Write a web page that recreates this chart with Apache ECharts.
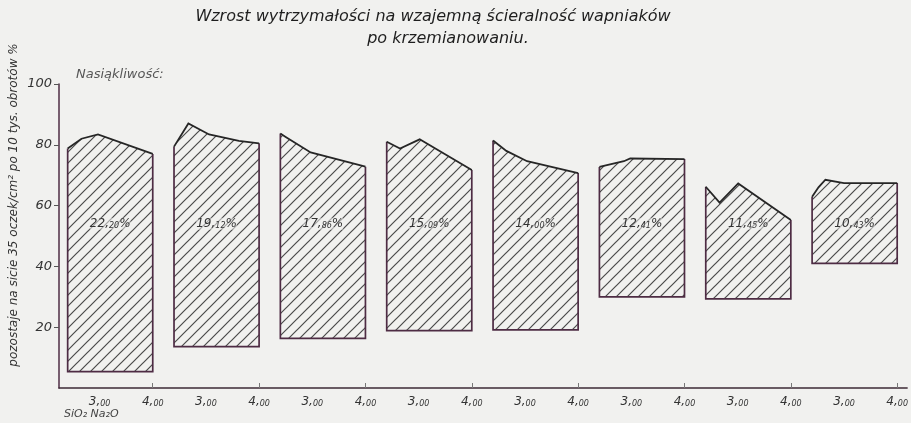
<!DOCTYPE html>
<html>
<head>
<meta charset="utf-8">
<title>Wzrost wytrzymałości na wzajemną ścieralność wapniaków</title>
<script src="https://cdn.jsdelivr.net/npm/echarts@6/dist/echarts.min.js"></script>
<style>
    html, body { margin: 0; padding: 0; background: #f1f1ef; }
    #chart { width: 911px; height: 423px; }
</style>
</head>
<body>
<div id="chart"></div>
<script>
// nasiąkliwość (etykieta w środku każdego pola)
const absorption = ['22,20', '19,12', '17,86', '15,09', '14,00', '12,41', '11,45', '10,43'];
// dolna granica pola, %
const bottoms = [5.4, 13.6, 16.3, 18.9, 19.1, 30.0, 29.3, 41.0];
// górny profil pola: [SiO2/Na2O, %]
const tops = [
    [[2.40, 78.8], [2.66, 82.0], [2.97, 83.4], [4.00, 77.0]],
    [[2.40, 79.4], [2.67, 87.0], [3.06, 83.4], [3.62, 81.3], [4.00, 80.5]],
    [[2.40, 83.7], [2.50, 82.6], [2.97, 77.5], [4.00, 72.8]],
    [[2.40, 81.0], [2.65, 78.8], [3.02, 81.8], [4.00, 71.7]],
    [[2.40, 81.4], [2.65, 78.0], [3.04, 74.6], [4.00, 70.7]],
    [[2.40, 72.7], [2.86, 74.6], [2.98, 75.5], [4.00, 75.3]],
    [[2.40, 66.2], [2.66, 61.0], [3.01, 67.3], [4.00, 55.3]],
    [[2.40, 62.9], [2.52, 66.0], [2.65, 68.5], [3.00, 67.4], [4.00, 67.4]]
];
// podziałka osi x w każdej grupie
const xTickRatios = [3, 4];
const xTickLabels = ['3,00', '4,00'];
const yTicks = [20, 40, 60, 80, 100];

const RATIO_MIN = 2.4;
const RATIO_MAX = 4.0;
const GROUP_STEP = 2;
const X_SHIFT = 2.237;
const LABEL_Y = 54;
const EDGE = '#4e2c44';
const INK = '#262626';

const gx = (i, r) => i * GROUP_STEP + r - X_SHIFT;

// wartości i etykiety osi x
const xLabelValues = [];
const xLabelMap = {};
const xTickValues = [];
absorption.forEach((_, i) => {
    xTickRatios.forEach((r, k) => {
        const v = +gx(i, r).toFixed(3);
        xLabelValues.push(v);
        xLabelMap[v.toFixed(3)] = xTickLabels[k];
        if (r === 4) xTickValues.push(v);
    });
});

/**
 * kreskowanie ukośne
 */
function makeHatch() {
    const s = 11;
    const c = document.createElement('canvas');
    c.width = s; c.height = s;
    const ctx = c.getContext('2d');
    ctx.strokeStyle = '#4a4a4a';
    ctx.lineWidth = 1.2;
    ctx.beginPath();
    ctx.moveTo(0, s); ctx.lineTo(s, 0);
    ctx.moveTo(-2, 2); ctx.lineTo(2, -2);
    ctx.moveTo(s - 2, s + 2); ctx.lineTo(s + 2, s - 2);
    ctx.stroke();
    return c;
}
const hatch = { image: makeHatch(), repeat: 'repeat' };

const chart = echarts.init(document.getElementById('chart'));

const option = {
    backgroundColor: '#f1f1ef',
    animation: false,
    textStyle: { fontFamily: 'DejaVu Sans' },
    grid: { left: 59, right: 2, top: 84, bottom: 35 },
    xAxis: {
        type: 'value',
        min: 0,
        max: 15.95,
        splitLine: { show: false },
        axisLine: { lineStyle: { color: '#3d2a36', width: 1.5 } },
        axisTick: {
            customValues: xTickValues,
            inside: true,
            length: 5,
            lineStyle: { color: '#777', width: 1 }
        },
        axisLabel: {
            customValues: xLabelValues,
            margin: 8,
            formatter: v => {
                const t = xLabelMap[(+v).toFixed(3)] || '';
                const p = t.split(',');
                return p.length === 2 ? `{a|${p[0]},}{b|${p[1]}}` : '';
            },
            rich: {
                a: { fontSize: 12, fontStyle: 'italic', color: '#333', fontFamily: 'DejaVu Sans' },
                b: { fontSize: 8, fontStyle: 'italic', color: '#333', fontFamily: 'DejaVu Sans', verticalAlign: 'bottom' }
            }
        }
    },
    yAxis: {
        type: 'value',
        min: 0,
        max: 100,
        interval: 20,
        splitLine: { show: false },
        axisLine: { show: true, lineStyle: { color: EDGE, width: 1.5 } },
        axisTick: { show: true, customValues: yTicks, length: 5, lineStyle: { color: '#555' } },
        axisLabel: {
            color: '#333',
            fontSize: 13,
            fontStyle: 'italic',
            margin: 7,
            formatter: v => (yTicks.includes(v) ? String(v) : '')
        }
    },
    graphic: [
        {
            type: 'text', x: 433, y: 17,
            style: {
                text: 'Wzrost wytrzymałości na wzajemną ścieralność wapniaków',
                align: 'center', verticalAlign: 'middle',
                fontSize: 16, fontStyle: 'italic', fill: '#1e1e1e', fontFamily: 'DejaVu Sans'
            }
        },
        {
            type: 'text', x: 448, y: 39,
            style: {
                text: 'po krzemianowaniu.',
                align: 'center', verticalAlign: 'middle',
                fontSize: 16, fontStyle: 'italic', fill: '#1e1e1e', fontFamily: 'DejaVu Sans'
            }
        },
        {
            type: 'text', x: 76, y: 75,
            style: {
                text: 'Nasiąkliwość:',
                verticalAlign: 'middle',
                fontSize: 13, fontStyle: 'italic', fill: '#555', fontFamily: 'DejaVu Sans'
            }
        },
        {
            type: 'text', x: 14, y: 205, rotation: Math.PI / 2,
            style: {
                text: 'pozostaje na sicie 35 oczek/cm² po 10 tys. obrotów %',
                align: 'center', verticalAlign: 'middle',
                fontSize: 12, fontStyle: 'italic', fill: '#333', fontFamily: 'DejaVu Sans'
            }
        },
        {
            type: 'text', x: 64, y: 409,
            style: {
                text: 'SiO₂ Na₂O',
                fontSize: 11, fontStyle: 'italic', fill: '#444', fontFamily: 'DejaVu Sans'
            }
        }
    ],
    series: [{
        type: 'custom',
        data: absorption.map((_, i) => [i]),
        renderItem: (params, api) => {
            const i = api.value(0);
            const top = tops[i].map(p => api.coord([gx(i, p[0]), p[1]]));
            const bl = api.coord([gx(i, RATIO_MIN), bottoms[i]]);
            const br = api.coord([gx(i, RATIO_MAX), bottoms[i]]);
            const lp = api.coord([gx(i, (RATIO_MIN + RATIO_MAX) / 2), LABEL_Y]);
            const p = absorption[i].split(',');
            return {
                type: 'group',
                children: [
                    { type: 'polygon', shape: { points: [bl, ...top, br] },
                      style: { fill: hatch, stroke: null } },
                    { type: 'polyline', shape: { points: [top[0], bl, br, top[top.length - 1]] },
                      style: { stroke: EDGE, lineWidth: 1.7, fill: null } },
                    { type: 'polyline', shape: { points: top },
                      style: { stroke: INK, lineWidth: 1.8, fill: null } },
                    { type: 'text', x: lp[0], y: lp[1],
                      style: {
                          text: `{a|${p[0]},}{b|${p[1]}}{a|%}`,
                          align: 'center', verticalAlign: 'middle',
                          backgroundColor: 'rgba(241,241,239,0.55)',
                          rich: {
                              a: { fontSize: 12, fontStyle: 'italic', fill: '#333', fontFamily: 'DejaVu Sans' },
                              b: { fontSize: 8, fontStyle: 'italic', fill: '#333', fontFamily: 'DejaVu Sans', verticalAlign: 'bottom' }
                          }
                      } }
                ]
            };
        }
    }]
};

chart.setOption(option);
</script>
</body>
</html>
